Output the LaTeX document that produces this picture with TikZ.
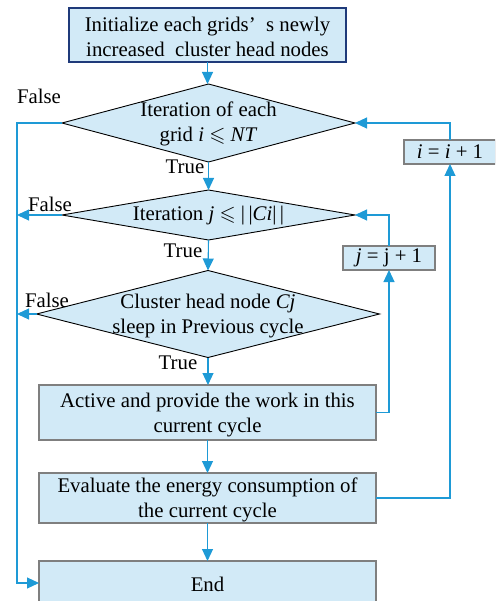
\documentclass[tikz,border=0pt]{standalone}
\usepackage{fontspec}
\setmainfont{Liberation Serif}
\usepackage{amssymb}
\usetikzlibrary{arrows.meta,shapes.geometric}
\definecolor{fillb}{HTML}{D2EAF7}
\definecolor{lineb}{HTML}{1E9AD6}
\definecolor{navyb}{HTML}{1F3A7A}
\definecolor{grayb}{HTML}{7F7F7F}
\begin{document}
\begin{tikzpicture}[x=1pt,y=-1pt,
 font=\fontsize{20.8}{25.5}\selectfont,
 box/.style={draw=grayb, fill=fillb, line width=1.1pt, rectangle, inner sep=0pt, outer sep=0pt, align=center},
 dia/.style={draw=black, fill=fillb, line width=0.9pt, diamond, inner sep=0pt, outer sep=0pt},
 conn/.style={draw=lineb, line width=1.1pt, -{Triangle[length=12pt,width=11pt]}},
 lbl/.style={inner sep=0pt, align=center}]
\clip (0,0) rectangle (495,601);
\node[box, draw=navyb, minimum width=277pt, minimum height=54pt] (init) at (207.5,35) {};
\node[lbl] (ti) at (207.5,37) {Initialize each grids’\ \ s newly\\increased\ \ cluster head nodes};
\node[dia, minimum width=293pt, minimum height=78pt] (d1) at (208.5,123) {};
\node[lbl] (t1) at (208.5,124) {Iteration of each\\grid \textit{i} $\leqslant$ \textit{NT}};
\node[dia, minimum width=293pt, minimum height=50pt] (d2) at (208.5,215) {};
\node[lbl] (t2) at (208.5,216) {Iteration \textit{j} $\leqslant$ |\,|\textit{Ci}|\,|};
\node[dia, minimum width=343pt, minimum height=87pt] (d3) at (208,314) {};
\node[lbl] (t3) at (208,316) {Cluster head node \textit{Cj}\\sleep in Previous cycle};
\node[box, minimum width=337pt, minimum height=55pt] (act) at (207.5,412.5) {};
\node[lbl] (ta) at (207.5,415) {Active and provide the work in this\\current cycle};
\node[box, minimum width=337pt, minimum height=50pt] (eva) at (207.5,498) {};
\node[lbl] (te) at (207.5,500) {Evaluate the energy consumption of\\the current cycle};
\node[box, minimum width=337pt, minimum height=44pt] (end) at (207.5,583) {};
\node[lbl] (tn) at (207.5,584) {End};
\node[box, minimum width=92pt, minimum height=24pt] (jb) at (389,258) {\textit{j} = j + 1};
\node[box, minimum width=92pt, minimum height=24pt] (ib) at (450,152) {\textit{i} = \textit{i} + 1};
\node[lbl] (f1) at (39,96) {False};
\node[lbl] (f2) at (50,204) {False};
\node[lbl] (f3) at (47,300) {False};
\node[lbl] (tr1) at (185,167) {True};
\node[lbl] (tr2) at (183,251) {True};
\node[lbl] (tr3) at (178,363) {True};
\coordinate (L) at (17,0);
\draw[conn] (init.south) -- (init.south |- d1.north);
\draw[conn] (d1.south) -- (d2.north);
\draw[conn] (d2.south) -- (d3.north);
\draw[conn] (d3.south) -- (d3.south |- act.north);
\draw[conn] (act.south) -- (eva.north);
\draw[conn] (eva.south) -- (end.north);
\draw[conn] (d1.west) -- (d1.west -| L) -- (end.west -| L) -- (end.west);
\draw[conn] (d2.west) -- (d2.west -| L);
\draw[conn] (d3.west) -- (d3.west -| L);
\draw[conn] (act.east) -| (jb.south);
\draw[conn] (jb.north) |- (d2.east);
\draw[conn] (eva.east) -| (ib.south);
\draw[conn] (ib.north) |- (d1.east);
\end{tikzpicture}
\end{document}
